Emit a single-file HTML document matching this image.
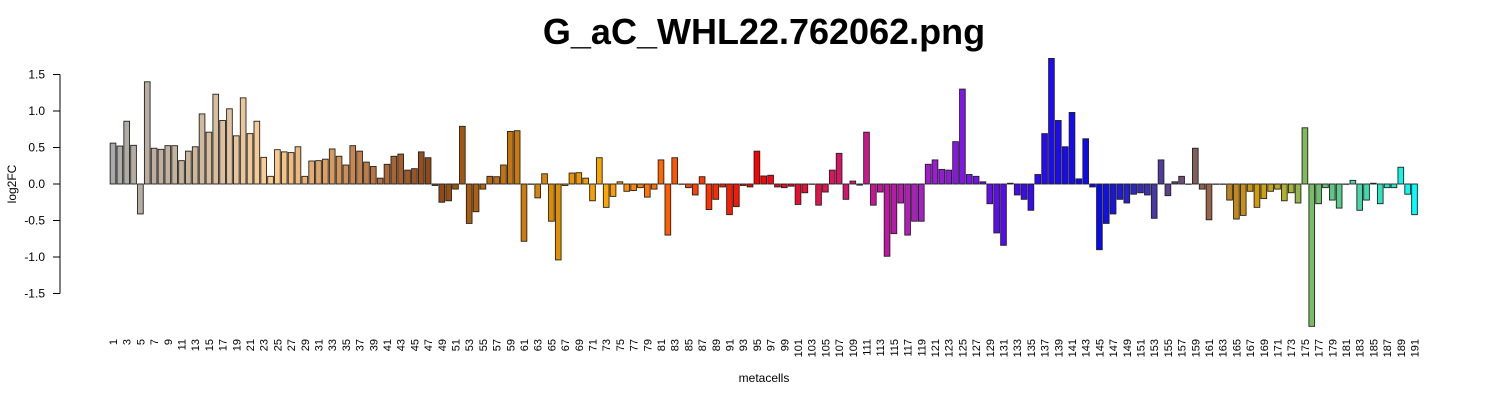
<!DOCTYPE html>
<html><head><meta charset="utf-8"><style>
html,body{margin:0;padding:0;background:#fff;width:1500px;height:400px;overflow:hidden}
svg text{font-family:"Liberation Sans",sans-serif}
</style></head><body>
<svg id="chart" width="1500" height="400" xmlns="http://www.w3.org/2000/svg">
<text x="764" y="44" text-anchor="middle" font-size="36" font-weight="bold">G_aC_WHL22.762062.png</text>
<text x="764" y="382" text-anchor="middle" font-size="12">metacells</text>
<text transform="translate(16,184) rotate(-90)" text-anchor="middle" font-size="12">log2FC</text>
<g id="yaxis"></g>
<g id="bars"></g>
<g id="xlabels"></g>
</svg>
<script>
const categories = Array.from({length:191},(_,i)=>String(i+1));
const values = [
0.56,0.52,0.86,0.53,-0.41,1.40,0.49,0.475,0.525,0.525,
0.32,0.45,0.51,0.96,0.71,1.23,0.87,1.03,0.66,1.18,
0.69,0.86,0.365,0.105,0.47,0.44,0.43,0.51,0.105,0.315,
0.32,0.34,0.48,0.38,0.26,0.525,0.45,0.30,0.24,0.08,
0.27,0.38,0.41,0.19,0.21,0.44,0.36,-0.02,-0.25,-0.23,
-0.07,0.79,-0.54,-0.38,-0.07,0.105,0.10,0.26,0.72,0.73,
-0.785,0.0,-0.19,0.14,-0.51,-1.04,-0.02,0.15,0.155,0.08,
-0.23,0.36,-0.32,-0.17,0.03,-0.10,-0.09,-0.05,-0.18,-0.07,
0.33,-0.70,0.36,0.0,-0.05,-0.15,0.10,-0.35,-0.21,-0.04,
-0.42,-0.31,-0.02,-0.04,0.45,0.11,0.12,-0.04,-0.05,-0.03,
-0.28,-0.12,0.0,-0.29,-0.11,0.19,0.42,-0.21,0.04,-0.015,
0.71,-0.29,-0.11,-0.99,-0.68,-0.26,-0.70,-0.51,-0.51,0.27,
0.33,0.20,0.19,0.58,1.30,0.13,0.105,0.03,-0.27,-0.67,
-0.84,0.01,-0.15,-0.21,-0.36,0.13,0.69,1.72,0.87,0.51,
0.98,0.07,0.62,-0.04,-0.90,-0.54,-0.41,-0.21,-0.26,-0.14,
-0.12,-0.15,-0.47,0.33,-0.16,0.03,0.105,0.0,0.49,-0.07,
-0.49,0.0,0.0,-0.22,-0.48,-0.43,-0.10,-0.32,-0.20,-0.10,
-0.07,-0.23,-0.12,-0.26,0.77,-1.95,-0.27,-0.05,-0.22,-0.33,
0.0,0.05,-0.36,-0.22,0.01,-0.27,-0.05,-0.05,0.23,-0.14,
-0.42];
const yTicks = [-1.5,-1.0,-0.5,0.0,0.5,1.0,1.5];
const yTickLabels = ["-1.5","-1.0","-0.5","0.0","0.5","1.0","1.5"];

const NS="http://www.w3.org/2000/svg";
const y0=184, yScale=73;
function yPos(v){return y0 - v*yScale;}
const step=6.85, bw=5.7;
function xPos(i){return 113 + i*step;}

const stops=[[1,[170,170,170]],[5,[184,172,160]],[12,[200,180,155]],[18,[225,195,160]],[24,[253,207,143]],[32,[220,160,100]],[40,[180,110,60]],[48,[139,69,19]],[57,[190,110,15]],[67,[230,145,0]],[73,[255,165,0]],[83,[255,85,0]],[95,[255,0,0]],[105,[225,20,80]],[112,[200,20,150]],[119,[170,30,200]],[125,[130,20,235]],[132,[80,10,240]],[138,[30,10,250]],[145,[10,10,240]],[152,[60,50,180]],[156,[100,70,130]],[159,[130,95,90]],[161,[150,100,70]],[164,[190,130,30]],[168,[210,155,10]],[172,[180,175,40]],[175,[130,185,90]],[178,[100,195,120]],[182,[80,210,160]],[187,[40,230,200]],[191,[0,255,255]]];
function colorFor(n){
  for(let k=0;k<stops.length-1;k++){
    const [a,ca]=stops[k],[b,cb]=stops[k+1];
    if(n>=a&&n<=b){const t=(n-a)/(b-a);return 'rgb('+ca.map((c,j)=>Math.round(c+(cb[j]-c)*t)).join(',')+')';}
  }
  return 'rgb(0,255,255)';
}

const ya=document.getElementById('yaxis');
const axl=document.createElementNS(NS,'line');


axl.setAttribute('x1',60);axl.setAttribute('x2',60);
axl.setAttribute('y1',yPos(1.5));axl.setAttribute('y2',yPos(-1.5));
axl.setAttribute('stroke','#000');ya.appendChild(axl);
yTicks.forEach((v,i)=>{
  const t=document.createElementNS(NS,'line');
  
  
  t.setAttribute('x1',53);t.setAttribute('x2',60);t.setAttribute('y1',yPos(v));t.setAttribute('y2',yPos(v));
  t.setAttribute('stroke','#000');ya.appendChild(t);
  const tx=document.createElementNS(NS,'text');
  
  
  tx.setAttribute('x',45);tx.setAttribute('y',yPos(v)+4);tx.setAttribute('text-anchor','end');tx.setAttribute('font-size','12');
  tx.textContent=yTickLabels[i];ya.appendChild(tx);
});

const bg=document.getElementById('bars');
values.forEach((v,i)=>{
  const r=document.createElementNS(NS,'rect');
  
  
  const top=Math.min(yPos(v),y0), h=Math.abs(yPos(v)-y0);
  r.setAttribute('x',xPos(i)-bw/2);r.setAttribute('y',top);
  r.setAttribute('width',bw);r.setAttribute('height',Math.max(h,0.3));
  r.setAttribute('fill',colorFor(i+1));r.setAttribute('stroke','#222');r.setAttribute('stroke-width','0.9');
  bg.appendChild(r);
});

const xl=document.getElementById('xlabels');
categories.forEach((c,i)=>{
  if(i%2!==0) return;
  const tx=document.createElementNS(NS,'text');
  
  
  const x=xPos(i)+4;
  tx.setAttribute('transform','translate('+x+',339) rotate(-90)');
  tx.setAttribute('text-anchor','end');tx.setAttribute('font-size','11');
  tx.textContent=c;xl.appendChild(tx);
});
</script>
</body></html>
